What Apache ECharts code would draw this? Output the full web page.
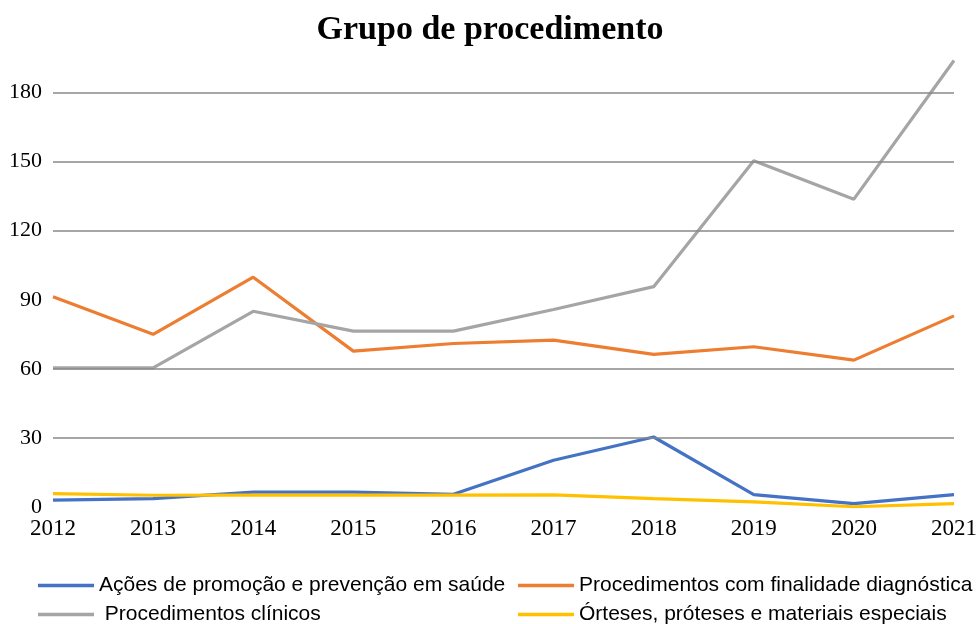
<!DOCTYPE html>
<html>
<head>
<meta charset="utf-8">
<title>Grupo de procedimento</title>
<script src="https://cdn.jsdelivr.net/npm/echarts@6/dist/echarts.min.js"></script>
<style>
  html, body { margin: 0; padding: 0; background: #fff; }
  #chart { width: 980px; height: 624px; }
</style>
</head>
<body>
<div id="chart"></div>
<script>
// data
var years = ['2012', '2013', '2014', '2015', '2016', '2017', '2018', '2019', '2020', '2021'];
var acoes = [3, 3.6, 6.5, 6.5, 5.5, 20.3, 30.4, 5.4, 1.5, 5.4];
var diagnostica = [91.3, 75, 99.8, 67.7, 71, 72.5, 66.3, 69.6, 63.8, 83];
var clinicos = [60.4, 60.4, 85, 76.4, 76.4, 85.8, 95.7, 150.4, 133.7, 193.9];
var orteses = [5.8, 5.1, 5.2, 5.2, 5.2, 5.3, 3.6, 2.2, 0.1, 1.5];

// gridlines that show in the original (there is none at 0 or 90)
var gridValues = [30, 60, 120, 150, 180];

var names = [
  'Ações de promoção e prevenção em saúde',
  'Procedimentos com finalidade diagnóstica',
  ' Procedimentos clínicos',
  'Órteses, próteses e materiais especiais'
];
var colors = ['#4472C4', '#ED7D31', '#A5A5A5', '#FFC000'];

var chart = echarts.init(document.getElementById('chart'));

var legendFont = {
  color: '#000',
  fontFamily: "'Liberation Sans', sans-serif",
  fontSize: 21
};
// one legend per name so the two columns line up like the original
var legendPos = [[38, 575], [518, 575], [38, 604], [518, 604]];
var legends = names.map(function (n, i) {
  return {
    data: [n],
    left: legendPos[i][0],
    top: legendPos[i][1],
    itemWidth: 56,
    itemHeight: 3.5,
    itemGap: 0,
    icon: 'rect',
    padding: 0,
    textStyle: legendFont
  };
});

function lineSeries(name, data, color) {
  return {
    name: name,
    type: 'line',
    data: data,
    symbol: 'none',
    z: 3,
    lineStyle: { color: color, width: 3.2 },
    itemStyle: { color: color }
  };
}

var option = {
  animation: false,
  title: {
    text: 'Grupo de procedimento',
    left: 'center',
    top: 8,
    textStyle: {
      fontFamily: "'Liberation Serif', serif",
      fontWeight: 'bold',
      fontSize: 34,
      color: '#000'
    }
  },
  legend: legends,
  grid: {
    left: 53,
    right: 23,
    top: 58,
    bottom: 117
  },
  xAxis: {
    type: 'category',
    data: years,
    boundaryGap: false,
    axisLine: { show: false },
    axisTick: { show: false },
    axisLabel: {
      color: '#000',
      fontFamily: "'Liberation Serif', serif",
      fontSize: 23,
      margin: 10
    }
  },
  yAxis: {
    type: 'value',
    min: 0,
    max: 195,
    interval: 30,
    axisLine: { show: false },
    axisTick: { show: false },
    axisLabel: {
      color: '#000',
      fontFamily: "'Liberation Serif', serif",
      fontSize: 22,
      margin: 11,
      showMaxLabel: false
    },
    splitLine: { show: false }
  },
  series: [
    {
      name: 'grid',
      type: 'line',
      data: [],
      z: 1,
      silent: true,
      markLine: {
        silent: true,
        symbol: 'none',
        label: { show: false },
        lineStyle: { color: '#888', width: 1.6, type: 'solid' },
        data: gridValues.map(function (v) { return { yAxis: v }; })
      }
    },
    lineSeries(names[0], acoes, colors[0]),
    lineSeries(names[1], diagnostica, colors[1]),
    lineSeries(names[2], clinicos, colors[2]),
    lineSeries(names[3], orteses, colors[3])
  ]
};

chart.setOption(option);
</script>
</body>
</html>
